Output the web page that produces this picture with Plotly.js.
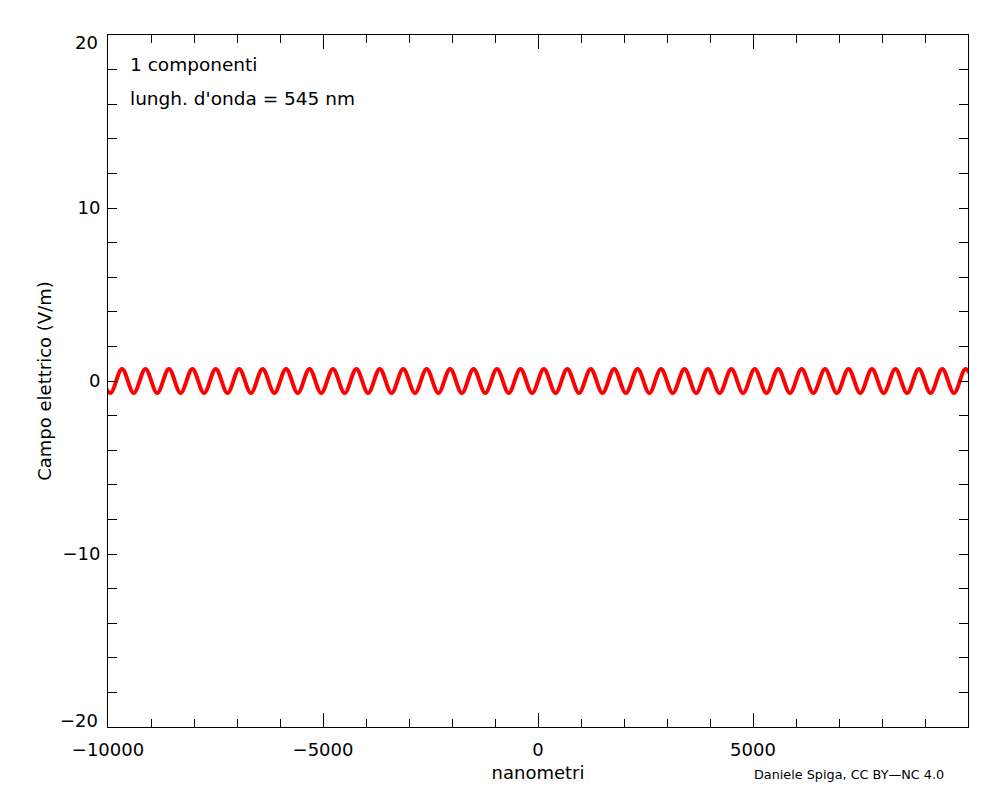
<!DOCTYPE html>
<html>
<head>
<meta charset="utf-8">
<script src="https://cdn.plot.ly/plotly-3.0.1.min.js"></script>
<style>html,body{margin:0;padding:0;background:#fff;}#chart{width:1000px;height:800px;}</style>
</head>
<body>
<div id="chart"></div>
<script>
// Crests and troughs of the wave (x in nm, field in V/m)
var waveX = [-10219, -9946, -9674, -9401, -9129, -8856, -8584, -8311, -8039, -7766,
  -7494, -7221, -6949, -6676, -6404, -6131, -5859, -5586, -5314, -5041,
  -4769, -4496, -4224, -3951, -3679, -3406, -3134, -2861, -2589, -2316,
  -2044, -1771, -1499, -1226, -954, -681, -409, -136, 136, 409,
  681, 954, 1226, 1499, 1771, 2044, 2316, 2589, 2861, 3134,
  3406, 3679, 3951, 4224, 4496, 4769, 5041, 5314, 5586, 5859,
  6131, 6404, 6676, 6949, 7221, 7494, 7766, 8039, 8311, 8584,
  8856, 9129, 9401, 9674, 9946, 10219];
var waveY = [0.7, -0.7, 0.7, -0.7, 0.7, -0.7, 0.7, -0.7, 0.7, -0.7,
  0.7, -0.7, 0.7, -0.7, 0.7, -0.7, 0.7, -0.7, 0.7, -0.7,
  0.7, -0.7, 0.7, -0.7, 0.7, -0.7, 0.7, -0.7, 0.7, -0.7,
  0.7, -0.7, 0.7, -0.7, 0.7, -0.7, 0.7, -0.7, 0.7, -0.7,
  0.7, -0.7, 0.7, -0.7, 0.7, -0.7, 0.7, -0.7, 0.7, -0.7,
  0.7, -0.7, 0.7, -0.7, 0.7, -0.7, 0.7, -0.7, 0.7, -0.7,
  0.7, -0.7, 0.7, -0.7, 0.7, -0.7, 0.7, -0.7, 0.7, -0.7,
  0.7, -0.7, 0.7, -0.7, 0.7, -0.7];

var xTickVals = [-10000, -5000, 0, 5000, 10000];
var xTickText = ['\u221210000', '\u22125000', '0', '5000', ''];
var yTickVals = [-10, 0, 10];
var yTickText = ['\u221210', '0', '10'];
// end labels of the y axis (drawn nudged inward, as in the reference)
var yEndVals = [-20, 20];
var yEndText = ['\u221220', '20'];

var xTitle = 'nanometri';
var yTitle = 'Campo elettrico (V/m)';
var label1 = '1 componenti';
var label2 = "lungh. d'onda = 545 nm";
var credit = 'Daniele Spiga, CC BY\u2014NC 4.0';

var font = 'DejaVu Sans, Liberation Sans, Arial, sans-serif';

var trace = {
  x: waveX, y: waveY, type: 'scatter', mode: 'lines',
  line: {color: '#ff0000', width: 4, shape: 'spline', smoothing: 1},
  cliponaxis: true, hoverinfo: 'skip'
};

var annotations = [
  {text: label1, xref: 'paper', yref: 'paper', x: 0.0233, y: 0.957, xanchor: 'left', yanchor: 'middle', showarrow: false,
   font: {family: font, size: 18.5, color: '#000'}},
  {text: label2, xref: 'paper', yref: 'paper', x: 0.0233, y: 0.908, xanchor: 'left', yanchor: 'middle', showarrow: false,
   font: {family: font, size: 18.5, color: '#000'}},
  {text: credit, xref: 'paper', yref: 'paper', x: 0.9744, y: -0.069, xanchor: 'right', yanchor: 'middle', showarrow: false,
   font: {family: font, size: 12.8, color: '#000'}}
];
for (var i = 0; i < yEndVals.length; i++) {
  annotations.push({text: yEndText[i], xref: 'paper', yref: 'y', x: 0, y: yEndVals[i],
    xshift: -8, yshift: yEndVals[i] > 0 ? -7 : 7, xanchor: 'right', yanchor: 'middle', showarrow: false,
    font: {family: font, size: 18, color: '#000'}});
}

var layout = {
  width: 1000, height: 800,
  margin: {l: 108, r: 32, t: 35, b: 73},
  paper_bgcolor: '#ffffff', plot_bgcolor: '#ffffff',
  showlegend: false,
  font: {family: font, color: '#000', size: 16},
  xaxis: {
    range: [-10000, 10000], showgrid: false, zeroline: false,
    showline: true, linecolor: '#000', linewidth: 1, mirror: 'ticks',
    ticks: 'inside', ticklen: 14, tickcolor: '#000', tickwidth: 1,
    tickmode: 'array', tickvals: xTickVals, ticktext: xTickText,
    ticklabelstandoff: 6,
    tickfont: {family: font, size: 18, color: '#000'},
    minor: {tickmode: 'linear', tick0: 0, dtick: 1000, ticks: 'inside', ticklen: 8, tickcolor: '#000', tickwidth: 1, showgrid: false},
    title: {text: xTitle, font: {family: font, size: 18, color: '#000'}, standoff: 7}
  },
  yaxis: {
    range: [-20, 20], showgrid: false, zeroline: false,
    showline: true, linecolor: '#000', linewidth: 1, mirror: 'ticks',
    ticks: 'inside', ticklen: 9, tickcolor: '#000', tickwidth: 1,
    tickmode: 'array', tickvals: yTickVals, ticktext: yTickText,
    ticklabelstandoff: 3,
    tickfont: {family: font, size: 18, color: '#000'},
    minor: {tickmode: 'linear', tick0: 0, dtick: 2, ticks: 'inside', ticklen: 9, tickcolor: '#000', tickwidth: 1, showgrid: false},
    title: {text: yTitle, font: {family: font, size: 18, color: '#000'}, standoff: 6}
  },
  annotations: annotations
};

Plotly.newPlot('chart', [trace], layout, {staticPlot: true, displayModeBar: false});
</script>
</body>
</html>
